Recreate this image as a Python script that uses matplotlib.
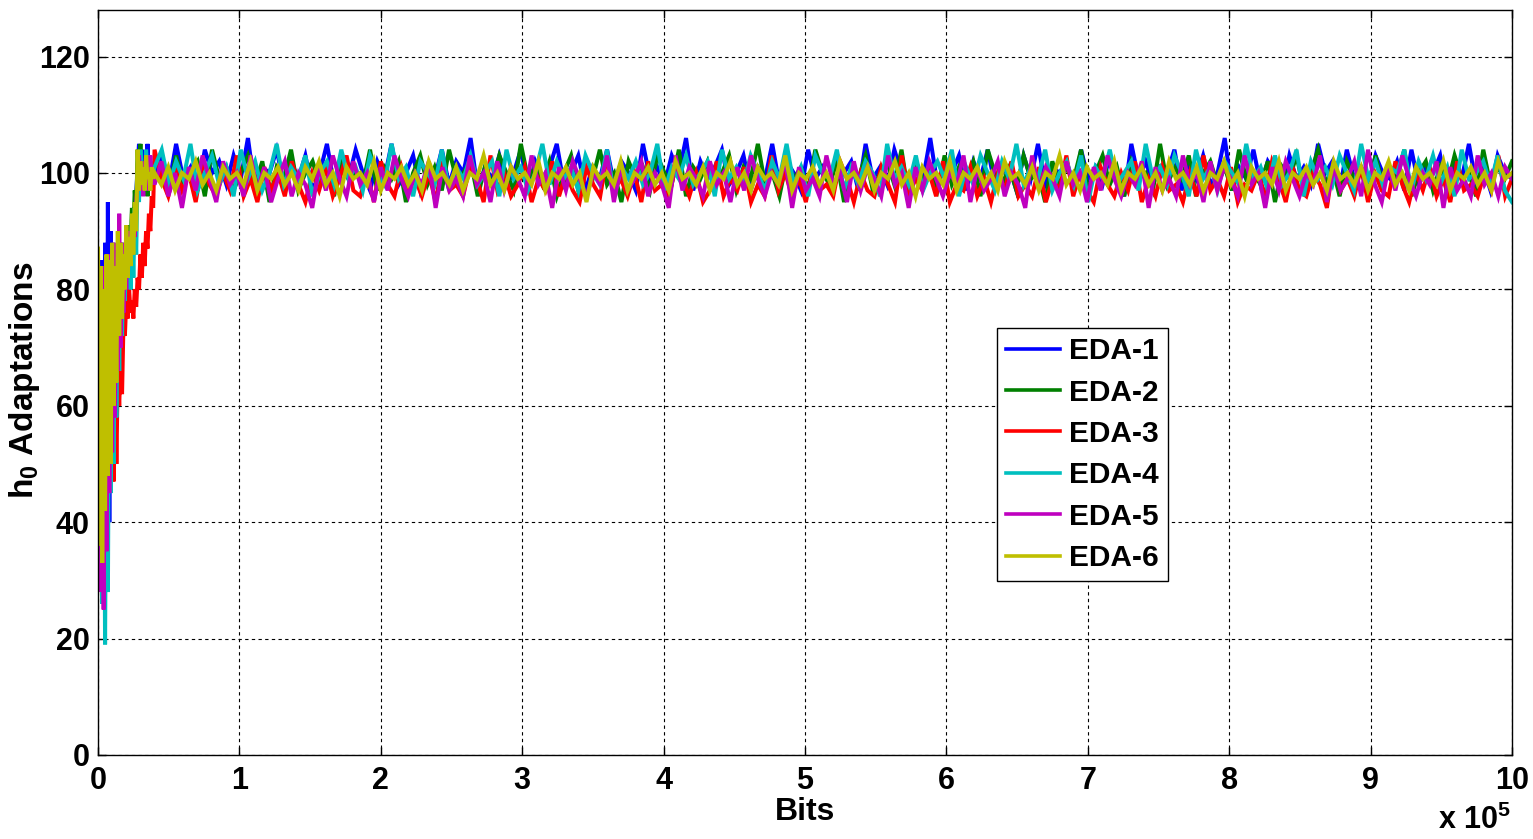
import numpy as np
import matplotlib
matplotlib.use("Agg")
import matplotlib.pyplot as plt

plt.rcParams['font.family'] = ['Liberation Sans', 'DejaVu Sans']
plt.rcParams['font.weight'] = 'bold'
plt.rcParams['mathtext.fontset'] = 'custom'
plt.rcParams['mathtext.rm'] = 'Liberation Sans:bold'
plt.rcParams['mathtext.bf'] = 'Liberation Sans:bold'
plt.rcParams['mathtext.it'] = 'Liberation Sans:bold'

labels = ['EDA-1', 'EDA-2', 'EDA-3', 'EDA-4', 'EDA-5', 'EDA-6']
colors = ['#0000ff', '#008000', '#ff0000', '#00bfbf', '#bf00bf', '#bfbf00']

# transient part: bits 0 .. 39000 (step 1000)
trans_start, trans_end = 0, 39000
# steady part: bits 40000 .. 1e6
steady_start, steady_end = 40000, 1000000

eda1_tr = [42, 78, 30, 85, 28, 88, 32, 95, 40, 90, 50, 88, 60, 84, 70, 86, 74, 84, 80, 86,
           79, 88, 82, 90, 85, 92, 88, 96, 101, 105, 98, 104, 99, 102, 97, 105, 100, 102, 98, 101]
eda2_tr = [86, 45, 82, 40, 78, 52, 84, 55, 82, 60, 85, 65, 83, 70, 86, 75, 88, 78, 87, 82,
           89, 84, 91, 87, 94, 90, 97, 93, 104, 99, 105, 98, 102, 97, 101, 96, 102, 99, 100, 98]
eda3_tr = [80, 40, 76, 38, 70, 44, 72, 46, 74, 48, 70, 47, 68, 50, 66, 60, 68, 62, 74, 72,
           78, 75, 80, 76, 78, 75, 80, 77, 82, 80, 86, 82, 88, 84, 90, 87, 93, 90, 96, 94]
eda4_tr = [84, 30, 80, 26, 72, 19, 66, 28, 78, 45, 82, 50, 86, 58, 84, 66, 87, 72, 88, 78,
           90, 82, 88, 80, 92, 82, 94, 86, 100, 95, 104, 99, 102, 97, 104, 100, 103, 98, 101, 100]
eda5_tr = [38, 82, 28, 84, 25, 80, 35, 86, 45, 84, 52, 88, 58, 86, 66, 93, 70, 88, 76, 87,
           80, 90, 84, 88, 86, 92, 89, 95, 98, 103, 97, 101, 96, 102, 99, 100, 97, 103, 98, 100]
eda6_tr = [87, 36, 84, 33, 80, 42, 86, 48, 85, 50, 88, 60, 84, 64, 90, 72, 88, 75, 86, 80,
           91, 82, 89, 84, 93, 86, 95, 90, 104, 97, 102, 98, 101, 97, 103, 99, 100, 97, 101, 99]

eda1_ss = [100, 103, 98, 105, 99, 101, 97, 104, 100, 102, 98, 103, 99, 106, 97, 101, 100, 104, 98,
           102, 99, 103, 97, 100, 105, 98, 101, 99, 104, 100, 97, 102, 99, 105, 98, 100, 103, 97,
           101, 99, 104, 98, 102, 100, 106, 97, 101, 99, 103, 98, 100, 104, 97, 102, 99, 101, 105,
           98, 100, 103, 97, 101, 99, 104, 98, 102, 100, 97, 105, 99, 101, 98, 103, 100, 106, 97,
           102, 99, 101, 104, 98, 100, 103, 97, 101, 99, 105, 98, 102, 100, 97, 104, 99, 101, 98,
           103, 100, 102, 97, 105, 99, 101, 98, 104, 100, 97, 102, 99, 106, 98, 101, 100, 103, 97,
           102, 99, 104, 98, 100, 101, 97, 103, 99, 105, 98, 101, 100, 102, 97, 104, 99, 101, 98,
           103, 100, 96, 105, 99, 102, 98, 101, 100, 104, 97, 102, 99, 103, 98, 100, 106, 97, 101,
           99, 104, 98, 102, 100, 97, 103, 99, 101, 98, 105, 100, 102, 97, 104, 99, 101, 98, 103,
           100, 99, 102, 97, 104, 98, 101, 100, 103, 96, 102, 99, 105, 98, 101, 97, 103, 100, 99]
eda2_ss = [99, 101, 97, 103, 98, 100, 102, 96, 104, 99, 101, 97, 100, 103, 98, 102, 95, 101, 99,
           104, 97, 100, 102, 98, 101, 96, 103, 99, 100, 98, 104, 97, 101, 99, 102, 95, 100, 103,
           98, 101, 97, 104, 99, 100, 102, 96, 101, 98, 103, 100, 97, 105, 99, 101, 98, 102, 96,
           100, 103, 97, 101, 99, 104, 98, 100, 95, 102, 99, 101, 97, 103, 100, 98, 104, 96, 101,
           99, 102, 98, 100, 103, 97, 101, 99, 105, 98, 100, 96, 102, 99, 101, 97, 104, 100, 98,
           102, 95, 101, 99, 103, 97, 100, 102, 98, 104, 96, 101, 99, 100, 97, 103, 98, 101, 99,
           102, 96, 104, 100, 98, 101, 97, 103, 99, 100, 95, 102, 98, 101, 99, 104, 97, 100, 103,
           98, 101, 96, 102, 99, 100, 97, 105, 98, 101, 99, 103, 96, 100, 102, 98, 101, 97, 104,
           99, 100, 98, 102, 95, 101, 99, 103, 97, 100, 104, 98, 101, 96, 102, 99, 100, 97, 103,
           98, 101, 99, 104, 96, 100, 102, 97, 101, 98, 103, 99, 100, 96, 104, 98, 101, 99, 102]
eda3_ss = [104, 99, 96, 101, 97, 100, 95, 102, 98, 96, 100, 97, 103, 96, 99, 95, 101, 97, 100,
           96, 102, 98, 95, 100, 97, 101, 96, 99, 103, 97, 96, 100, 95, 102, 98, 96, 101, 97, 99,
           96, 100, 95, 102, 97, 98, 96, 101, 99, 95, 103, 97, 100, 96, 98, 101, 95, 99, 97, 102,
           96, 100, 97, 95, 101, 98, 96, 103, 97, 99, 96, 100, 95, 102, 97, 98, 96, 101, 99, 96,
           100, 95, 97, 102, 96, 99, 97, 101, 95, 98, 96, 103, 97, 100, 96, 99, 95, 101, 97, 98,
           96, 102, 99, 95, 100, 97, 96, 101, 98, 95, 103, 96, 99, 97, 100, 96, 102, 95, 98, 97,
           101, 96, 99, 95, 100, 97, 102, 96, 98, 96, 101, 95, 99, 97, 103, 96, 100, 97, 95, 101,
           98, 96, 100, 97, 102, 95, 99, 96, 101, 97, 98, 95, 100, 96, 103, 97, 99, 96, 101, 95,
           98, 97, 100, 96, 102, 99, 95, 101, 97, 96, 100, 98, 94, 102, 97, 99, 96, 101, 95, 100,
           97, 96, 102, 98, 95, 100, 97, 101, 96, 99, 95, 102, 97, 98, 96, 100, 97, 103, 96, 99]
eda4_ss = [101, 104, 98, 102, 99, 105, 97, 100, 103, 98, 101, 96, 104, 99, 102, 97, 100, 105, 98,
           101, 99, 103, 96, 100, 102, 98, 104, 99, 101, 97, 103, 100, 98, 105, 99, 101, 96, 102,
           100, 98, 104, 97, 101, 99, 103, 98, 100, 102, 96, 104, 99, 101, 97, 100, 105, 98, 102,
           99, 101, 97, 103, 100, 98, 104, 96, 101, 99, 102, 98, 100, 105, 97, 101, 99, 103, 98,
           100, 102, 96, 104, 99, 101, 98, 103, 100, 97, 102, 99, 105, 98, 101, 96, 103, 100, 99,
           104, 97, 101, 98, 102, 100, 96, 105, 99, 101, 98, 103, 97, 100, 102, 99, 104, 96, 101,
           98, 103, 100, 97, 102, 99, 105, 98, 101, 99, 104, 97, 100, 102, 98, 103, 95, 101, 99,
           104, 98, 100, 102, 97, 105, 99, 101, 98, 103, 100, 96, 104, 99, 101, 97, 102, 100, 98,
           105, 99, 101, 97, 103, 98, 100, 104, 96, 102, 99, 101, 98, 103, 100, 97, 105, 99, 102,
           98, 101, 100, 104, 97, 102, 99, 103, 98, 101, 96, 104, 99, 100, 102, 98, 103, 97, 95]
eda5_ss = [98, 102, 96, 100, 94, 101, 97, 103, 99, 95, 102, 98, 100, 96, 103, 97, 101, 95, 99,
           102, 96, 100, 98, 94, 101, 97, 103, 99, 96, 102, 98, 100, 95, 101, 97, 103, 99, 96, 100,
           98, 102, 94, 101, 97, 99, 96, 103, 98, 100, 95, 102, 97, 101, 99, 96, 103, 98, 100, 94,
           101, 97, 102, 99, 96, 100, 98, 103, 95, 101, 97, 99, 102, 96, 100, 98, 94, 103, 97, 101,
           99, 96, 102, 98, 100, 95, 101, 97, 103, 99, 96, 100, 98, 102, 94, 101, 97, 99, 96, 103,
           98, 100, 95, 102, 97, 101, 99, 96, 103, 98, 100, 94, 101, 97, 102, 99, 96, 100, 98, 103,
           95, 101, 97, 99, 102, 96, 100, 98, 94, 103, 97, 101, 99, 96, 102, 98, 100, 95, 101, 97,
           103, 99, 96, 100, 98, 102, 94, 101, 97, 99, 96, 103, 98, 100, 95, 102, 97, 101, 99, 96,
           103, 98, 100, 94, 101, 97, 102, 99, 96, 100, 98, 103, 95, 101, 97, 99, 102, 96, 104, 98,
           95, 101, 97, 103, 99, 96, 100, 98, 102, 94, 101, 97, 99, 96, 103, 98, 100, 96, 101, 99]
eda6_ss = [100, 98, 101, 97, 100, 99, 102, 98, 100, 97, 101, 99, 100, 98, 102, 97, 100, 99, 101,
           98, 100, 97, 101, 99, 102, 98, 100, 96, 101, 99, 100, 98, 102, 97, 100, 99, 101, 98, 100,
           97, 102, 99, 100, 98, 101, 97, 100, 99, 103, 98, 100, 97, 101, 99, 100, 98, 102, 97, 100,
           99, 101, 98, 100, 95, 101, 99, 100, 98, 102, 97, 100, 99, 101, 98, 100, 97, 102, 99, 100,
           98, 101, 97, 100, 99, 102, 98, 100, 97, 101, 99, 100, 98, 103, 97, 100, 99, 101, 98, 100,
           97, 102, 99, 100, 98, 101, 97, 100, 99, 102, 98, 100, 96, 101, 99, 100, 98, 102, 97, 100,
           99, 101, 98, 100, 97, 102, 99, 100, 98, 101, 97, 100, 99, 103, 98, 100, 97, 101, 99, 100,
           98, 102, 97, 100, 99, 101, 98, 100, 97, 102, 99, 100, 98, 101, 97, 100, 99, 102, 98, 100,
           96, 101, 99, 100, 98, 102, 97, 100, 99, 101, 98, 100, 97, 102, 99, 100, 98, 101, 97, 100,
           99, 102, 98, 100, 97, 101, 99, 100, 98, 102, 97, 100, 99, 101, 98, 100, 97, 102, 99, 100]

transients = [eda1_tr, eda2_tr, eda3_tr, eda4_tr, eda5_tr, eda6_tr]
steadies = [eda1_ss, eda2_ss, eda3_ss, eda4_ss, eda5_ss, eda6_ss]

xticks = [0, 100000, 200000, 300000, 400000, 500000, 600000, 700000, 800000, 900000, 1000000]
xticklabels = ['0', '1', '2', '3', '4', '5', '6', '7', '8', '9', '10']
yticks = [0, 20, 40, 60, 80, 100, 120]

W, H = 1533, 839
fig = plt.figure(figsize=(W / 100, H / 100), dpi=100)
ax = fig.add_axes([98 / W, (H - 755) / H, (1512 - 98) / W, (755 - 10) / H])

for tr, ss, lab, col in zip(transients, steadies, labels, colors):
    x = np.concatenate([np.linspace(trans_start, trans_end, len(tr)),
                        np.linspace(steady_start, steady_end, len(ss))])
    y = np.array(tr + ss, dtype=float)
    ax.plot(x, y, color=col, lw=2.9, label=lab, solid_joinstyle='miter')

ax.set_xlim(0, 1000000)
ax.set_ylim(0, 128)
ax.set_xticks(xticks)
ax.set_xticklabels(xticklabels)
ax.set_yticks(yticks)
ax.tick_params(direction='in', length=6, width=1, top=True, right=True, labelsize=22)
ax.tick_params(axis='x', pad=8)
ax.tick_params(axis='y', pad=6)
for t in ax.get_xticklabels() + ax.get_yticklabels():
    t.set_fontweight('bold')
ax.grid(True, color='black', linestyle=(0, (3, 3)), linewidth=0.8)
for s in ax.spines.values():
    s.set_linewidth(1.0)

ax.set_xlabel('Bits', fontsize=23, fontweight='bold')
ax.xaxis.set_label_coords(0.5, (755 - 797) / 745)
ax.set_ylabel(r'h$_\mathbf{0}$ Adaptations', fontsize=24, fontweight='bold')
ax.yaxis.set_label_coords((42 - 98) / 1414, (755 - 380) / 745)

fig.text(1511 / W, 3 / H, r'x 10$^{5}$', fontsize=22, fontweight='bold',
         ha='right', va='bottom')

leg = ax.legend(loc='upper left', bbox_to_anchor=(0.636, 0.573), fontsize=21.5,
                frameon=True, fancybox=False, edgecolor='black', framealpha=1,
                handlelength=1.8, labelspacing=0.45, borderpad=0.3,
                handletextpad=0.3, borderaxespad=0)
leg.get_frame().set_linewidth(1.0)
for t in leg.get_texts():
    t.set_fontweight('bold')
for l in leg.get_lines():
    l.set_linewidth(2.6)

fig.savefig('out.png', dpi=100)
